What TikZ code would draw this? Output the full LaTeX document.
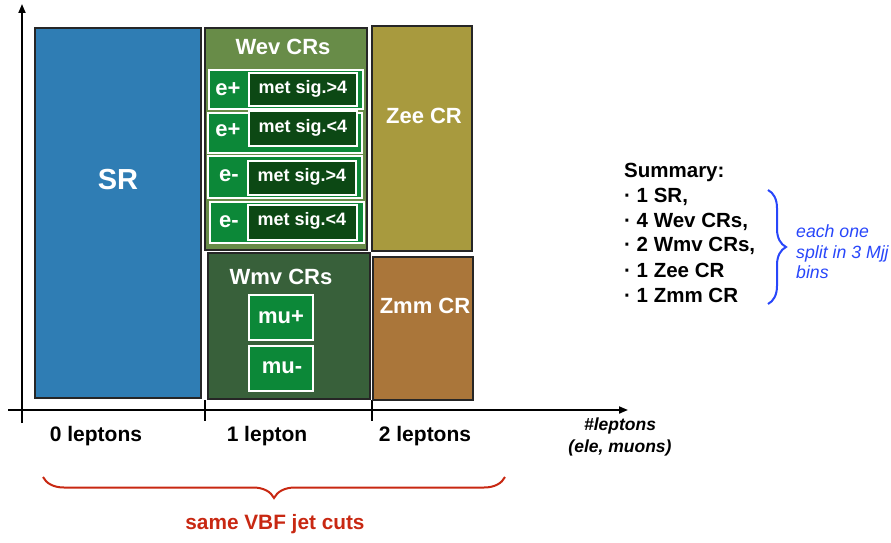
\documentclass[tikz,border=0pt]{standalone}
\usepackage{fontspec}
\setmainfont{Liberation Sans}
\usetikzlibrary{arrows.meta,decorations.pathreplacing,shadows}
\definecolor{srblue}{RGB}{47,125,180}
\definecolor{wevgreen}{RGB}{104,140,72}
\definecolor{rowgreen}{RGB}{12,136,56}
\definecolor{darkrow}{RGB}{12,72,20}
\definecolor{wmvgreen}{RGB}{56,96,58}
\definecolor{zeeolive}{RGB}{168,154,62}
\definecolor{zmmbrown}{RGB}{170,118,58}
\definecolor{cutred}{RGB}{200,40,18}
\definecolor{noteblue}{RGB}{40,70,250}
\begin{document}
\begin{tikzpicture}[x=1pt,y=-1pt,
  region/.style={draw=black!85,line width=1.5pt,inner sep=0pt,
    drop shadow={opacity=0.25,shadow xshift=1pt,shadow yshift=-1pt}},
  rowbox/.style={draw=white,line width=1.3pt,fill=rowgreen,inner sep=0pt},
  cutbox/.style={draw=white,line width=1.3pt,fill=darkrow,inner sep=0pt},
  big/.style={text=white,font=\bfseries\fontsize{22}{26}\selectfont,inner sep=0pt},
  small/.style={text=white,font=\bfseries\fontsize{18}{22}\selectfont,inner sep=0pt},
  axlabel/.style={font=\bfseries\fontsize{21}{25}\selectfont,inner sep=0pt},
  summ/.style={font=\bfseries\fontsize{20.5}{24}\selectfont,anchor=west,inner sep=0pt},
  axis/.style={line width=1.8pt,-{Triangle[length=9pt,width=7pt]}}
]
\useasboundingbox (0,0) rectangle (891,543);
% axes
\coordinate (ybot) at (22,423);
\coordinate (ytop) at (22,4);
\coordinate (xleft) at (8,410);
\coordinate (xright) at (628,410);
\draw[axis] (ybot) -- (ytop);
\draw[axis] (xleft) -- (xright);
\coordinate (t1a) at (205,400); \coordinate (t1b) at (205,421);
\coordinate (t2a) at (372,400); \coordinate (t2b) at (372,421);
\draw[line width=1.8pt] (t1a) -- (t1b);
\draw[line width=1.8pt] (t2a) -- (t2b);
% regions
\node[region,fill=srblue,minimum width=166pt,minimum height=370pt] (sr) at (118,213) {};
\node[big,font=\bfseries\fontsize{29}{33}\selectfont] (srt) at (118,180) {SR};
\node[region,fill=wevgreen,minimum width=162pt,minimum height=222pt] (wev) at (286,139) {};
\node[big] (wevt) at (283,47) {Wev CRs};
% Wev rows
\node[rowbox,minimum width=154pt,minimum height=39pt] (r1) at (286,89.5) {};
\node[rowbox,minimum width=154pt,minimum height=40pt] (r2) at (285,133) {};
\node[rowbox,minimum width=154pt,minimum height=42pt] (r3) at (285,177) {};
\node[rowbox,minimum width=154pt,minimum height=41pt] (r4) at (287,222.5) {};
\node[cutbox,minimum width=108pt,minimum height=33pt] (c1) at (303,89.5) {};
\node[cutbox,minimum width=108pt,minimum height=35pt] (c2) at (303,128.5) {};
\node[cutbox,minimum width=108pt,minimum height=34pt] (c3) at (302,178) {};
\node[cutbox,minimum width=109pt,minimum height=35pt] (c4) at (302.5,222.5) {};
\node[big] (e1) at (228,89) {e+};
\node[big] (e2) at (228,130) {e+};
\node[big] (e3) at (229,176) {e-};
\node[big] (e4) at (229,222) {e-};
\node[small] (m1) at (303,89) {met sig.>4};
\node[small] (m2) at (303,128) {met sig.<4};
\node[small] (m3) at (302,177) {met sig.>4};
\node[small] (m4) at (302,221) {met sig.<4};
% Wmv
\node[region,fill=wmvgreen,minimum width=162pt,minimum height=146pt] (wmv) at (289,326) {};
\node[big] (wmvt) at (281,277) {Wmv CRs};
\node[rowbox,minimum width=64pt,minimum height=45pt] (mup) at (281,317.5) {};
\node[rowbox,minimum width=64pt,minimum height=45pt] (mum) at (281,368.5) {};
\node[big] (mupt) at (281,317) {mu+};
\node[big] (mumt) at (282,368) {mu-};
% Zee, Zmm
\node[region,fill=zeeolive,minimum width=100pt,minimum height=225pt] (zee) at (422,138.5) {};
\node[big] (zeet) at (424,116) {Zee CR};
\node[region,fill=zmmbrown,minimum width=100pt,minimum height=143pt] (zmm) at (423,328.5) {};
\node[big] (zmmt) at (425,306) {Zmm CR};
% axis labels
\node[axlabel] (l0) at (96,436) {0 leptons};
\node[axlabel] (l1) at (267,436) {1 lepton};
\node[axlabel] (l2) at (425,436) {2 leptons};
\node[font=\bfseries\itshape\fontsize{17.5}{22}\selectfont,align=center,inner sep=0pt] (xl) at (620,437) {\#leptons\\(ele, muons)};
% bottom brace
\coordinate (bb1) at (505,477);
\coordinate (bb2) at (43,477);
\draw[cutred,line width=2pt,decorate,decoration={brace,amplitude=21pt}] (bb1) -- (bb2);
\node[font=\bfseries\fontsize{20.8}{25}\selectfont,text=cutred,inner sep=0pt] (vbf) at (275,524) {same VBF jet cuts};
% summary
\node[summ] (s0) at (624,172) {Summary:};
\node[summ] (s1) at (624,197) {· 1 SR,};
\node[summ] (s2) at (624,222) {· 4 Wev CRs,};
\node[summ] (s3) at (624,246) {· 2 Wmv CRs,};
\node[summ] (s4) at (624,270) {· 1 Zee CR};
\node[summ] (s5) at (624,295) {· 1 Zmm CR};
\coordinate (br1) at (768,190);
\coordinate (br2) at (768,304);
\draw[noteblue,line width=2pt,decorate,decoration={brace,amplitude=18pt}] (br1) -- (br2);
\node[font=\itshape\fontsize{17.7}{20.5}\selectfont,text=noteblue,align=left,anchor=west,inner sep=0pt] (note) at (796,252) {each one\\split in 3 Mjj\\bins};
\end{tikzpicture}
\end{document}
